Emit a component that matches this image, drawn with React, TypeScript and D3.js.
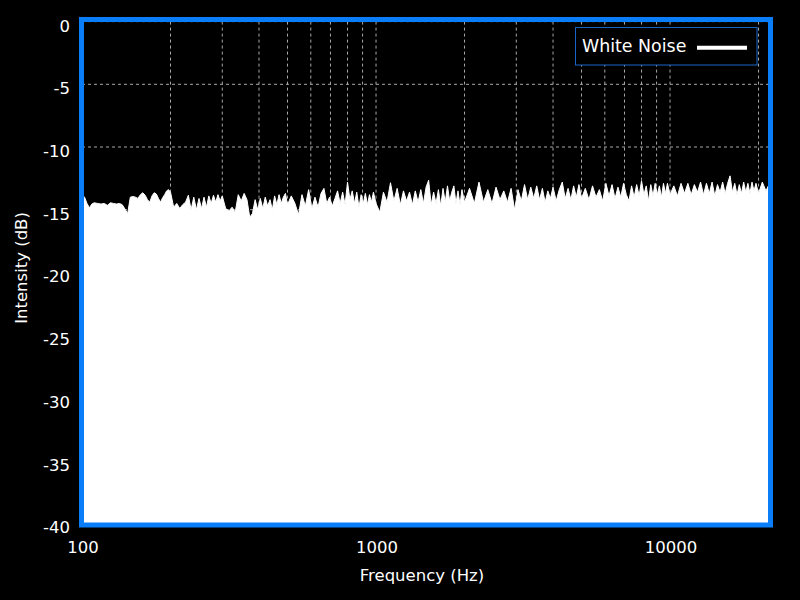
import React from 'react';
import * as d3 from 'd3';

// [frequency Hz, intensity dB]
const spectrum: [number, number][] = [
  [100, -13.8], [102, -14.0], [104, -14.5], [106, -14.85], [108, -14.55], [110, -14.45], [113, -14.5],
  [116, -14.55], [119, -14.5], [122, -14.65], [125, -14.45], [128, -14.5], [131, -14.55], [134, -14.5],
  [137, -14.6], [140, -14.95], [143, -15.3], [146, -14.0], [149, -13.95], [152, -14.0], [155, -14.1],
  [158, -13.8], [161, -13.65], [164, -13.85], [167, -14.2], [170, -14.4], [173, -13.9], [176, -13.65],
  [179, -13.75], [182, -14.1], [185, -14.4], [188, -14.05], [191, -13.8], [194, -13.5], [197, -13.4],
  [200, -13.6], [205, -14.8], [210, -14.5], [215, -14.9], [220, -14.6], [225, -14.4], [230, -13.85],
  [235, -15.0], [240, -14.0], [245, -15.0], [250, -14.1], [255, -14.9], [260, -14.0], [265, -14.8],
  [270, -13.9], [275, -14.5], [280, -13.85], [285, -14.4], [290, -13.8], [295, -14.3], [300, -13.9],
  [308, -14.9], [316, -15.1], [324, -14.8], [332, -15.2], [340, -13.8], [348, -14.3], [356, -13.7],
  [364, -14.2], [372, -15.6], [380, -15.3], [388, -14.2], [396, -15.0], [404, -14.1], [412, -14.9],
  [420, -14.0], [428, -14.7], [436, -14.2], [444, -15.0], [452, -13.9], [460, -14.6], [468, -13.8],
  [476, -14.5], [484, -14.0], [492, -13.7], [500, -14.6],
  [515, -13.9], [530, -14.5], [545, -15.4], [560, -13.8], [575, -14.7], [590, -13.4], [605, -14.9],
  [620, -14.0], [635, -14.8], [650, -13.7], [665, -13.3], [680, -14.5], [695, -14.0], [710, -14.7],
  [725, -14.1], [740, -13.5], [755, -14.5], [770, -13.6], [785, -14.6], [800, -12.8], [815, -14.2],
  [830, -13.5], [845, -14.5], [860, -13.6], [875, -14.8], [890, -13.8], [905, -14.5], [920, -13.7],
  [935, -14.6], [950, -13.8], [965, -14.4], [980, -13.6], [1000, -14.5],
  [1030, -15.2], [1060, -13.6], [1090, -14.4], [1120, -12.85], [1150, -14.3], [1180, -13.3], [1210, -14.6],
  [1240, -13.5], [1270, -14.3], [1300, -13.6], [1330, -14.6], [1360, -13.5], [1390, -14.4], [1420, -13.4],
  [1450, -14.5], [1480, -13.2], [1510, -12.65], [1540, -14.6], [1570, -13.6], [1600, -14.5], [1630, -13.4],
  [1660, -14.7], [1690, -13.3], [1720, -14.4], [1750, -13.1], [1780, -14.3], [1810, -13.6], [1840, -13.1],
  [1870, -14.5], [1900, -13.5], [1930, -14.6], [1960, -13.4], [2000, -14.4],
  [2080, -13.3], [2160, -14.5], [2240, -12.8], [2320, -14.4], [2400, -13.4], [2480, -14.5], [2560, -13.2],
  [2640, -14.2], [2720, -13.5], [2800, -14.4], [2880, -13.3], [2960, -15.0], [3040, -13.4], [3120, -14.3],
  [3200, -13.0], [3280, -14.2], [3360, -13.2], [3440, -14.1], [3520, -13.1], [3600, -14.2], [3680, -13.3],
  [3760, -14.4], [3840, -13.5], [3920, -14.1], [4000, -13.2], [4100, -14.3], [4200, -13.4], [4300, -12.8],
  [4400, -14.1], [4500, -13.3], [4600, -14.2], [4700, -13.1], [4800, -14.0], [4900, -13.0], [5000, -14.1],
  [5150, -13.3], [5300, -14.2], [5450, -13.1], [5600, -14.0], [5750, -13.4], [5900, -14.3], [6050, -12.9],
  [6200, -13.9], [6350, -13.0], [6500, -14.1], [6650, -13.2], [6800, -14.0], [6950, -12.9], [7100, -13.8],
  [7250, -14.3], [7400, -13.1], [7550, -14.0], [7700, -13.0], [7850, -13.9], [8000, -12.7], [8150, -13.8],
  [8300, -13.1], [8450, -14.3], [8600, -13.0], [8750, -13.9], [8900, -12.9], [9050, -13.8], [9200, -13.1],
  [9350, -14.0], [9500, -12.9], [9650, -13.7], [9800, -12.9], [10000, -13.8],
  [10300, -13.1], [10600, -13.9], [10900, -12.9], [11200, -13.7], [11500, -12.9], [11800, -13.8], [12100, -13.0],
  [12400, -13.6], [12700, -12.8], [13000, -13.8], [13300, -12.9], [13600, -13.7], [13900, -12.8], [14200, -13.9],
  [14500, -13.0], [14800, -13.6], [15100, -12.8], [15400, -13.7], [15700, -12.9], [16000, -12.3], [16300, -13.6],
  [16600, -12.9], [16900, -13.8], [17200, -13.0], [17500, -13.7], [17800, -12.8], [18100, -13.6], [18400, -12.9],
  [18700, -13.7], [19000, -12.8], [19300, -13.5], [19600, -12.9], [20000, -13.7], [20600, -12.8], [21200, -13.5],
  [21800, -12.9], [22050, -13.2],
];

const yTicks = [0, -5, -10, -15, -20, -25, -30, -35, -40];
const xTickLabels = [100, 1000, 10000];
const gridFreqs = [200, 300, 400, 500, 600, 700, 800, 900, 1000, 2000, 3000, 4000, 5000, 6000, 7000, 8000, 9000, 10000, 20000];
const seriesName = 'White Noise';

const FONT = '"DejaVu Sans", sans-serif';
const BLUE = '#0a7ef8';

export default function App() {
  const x = d3.scaleLog().domain([100, 22050]).range([82, 771]);
  const y = d3.scaleLinear().domain([-40, 0]).range([523.2, 21.6]);
  const area = d3
    .area<[number, number]>()
    .x((d) => x(d[0]))
    .y0(y(-40))
    .y1((d) => y(d[1]));
  const line = d3
    .line<[number, number]>()
    .x((d) => x(d[0]))
    .y((d) => y(d[1]));

  return (
    <svg
      width={800}
      height={600}
      style={{ position: 'fixed', left: 0, top: 0, background: '#000' }}
      fontFamily={FONT}
    >
      <rect x={0} y={0} width={800} height={600} fill="#000" />
      {/* grid */}
      {gridFreqs.map((f) => (
        <line key={'gx' + f} x1={x(f)} x2={x(f)} y1={y(0)} y2={y(-40)} stroke="#a8a8a8" strokeWidth={1} strokeDasharray="3,3" />
      ))}
      {yTicks.map((t) => (
        <line key={'gy' + t} x1={x(100)} x2={x(22050)} y1={y(t)} y2={y(t)} stroke="#a8a8a8" strokeWidth={1} strokeDasharray="3,3" />
      ))}
      {/* data */}
      <path d={area(spectrum) || ''} fill="#fff" />
      <path d={line(spectrum) || ''} fill="none" stroke="#fff" strokeWidth={1} />
      {/* frame */}
      <rect x={81.5} y={19.5} width={689} height={505.5} fill="none" stroke={BLUE} strokeWidth={5} />
      {/* y ticks */}
      {yTicks.map((t) => (
        <text key={'ty' + t} x={70} y={y(t) + 10} fill="#fff" fontSize={16.5} textAnchor="end">
          {t}
        </text>
      ))}
      {xTickLabels.map((f) => (
        <text key={'tx' + f} x={x(f) + 1} y={553} fill="#fff" fontSize={16.5} textAnchor="middle">
          {f}
        </text>
      ))}
      <text x={422} y={581} fill="#fff" fontSize={16.5} textAnchor="middle">
        Frequency (Hz)
      </text>
      <text transform="translate(27,268) rotate(-90)" fill="#fff" fontSize={16.5} textAnchor="middle">
        Intensity (dB)
      </text>
      {/* legend */}
      <rect x={575.5} y={27.5} width={181.5} height={37.5} fill="#000" stroke="#1a64c8" strokeWidth={1} />
      <text x={582} y={51.7} fill="#fff" fontSize={17.4}>
        {seriesName}
      </text>
      <line x1={697} x2={747} y1={47.7} y2={47.7} stroke="#fff" strokeWidth={4} />
    </svg>
  );
}
